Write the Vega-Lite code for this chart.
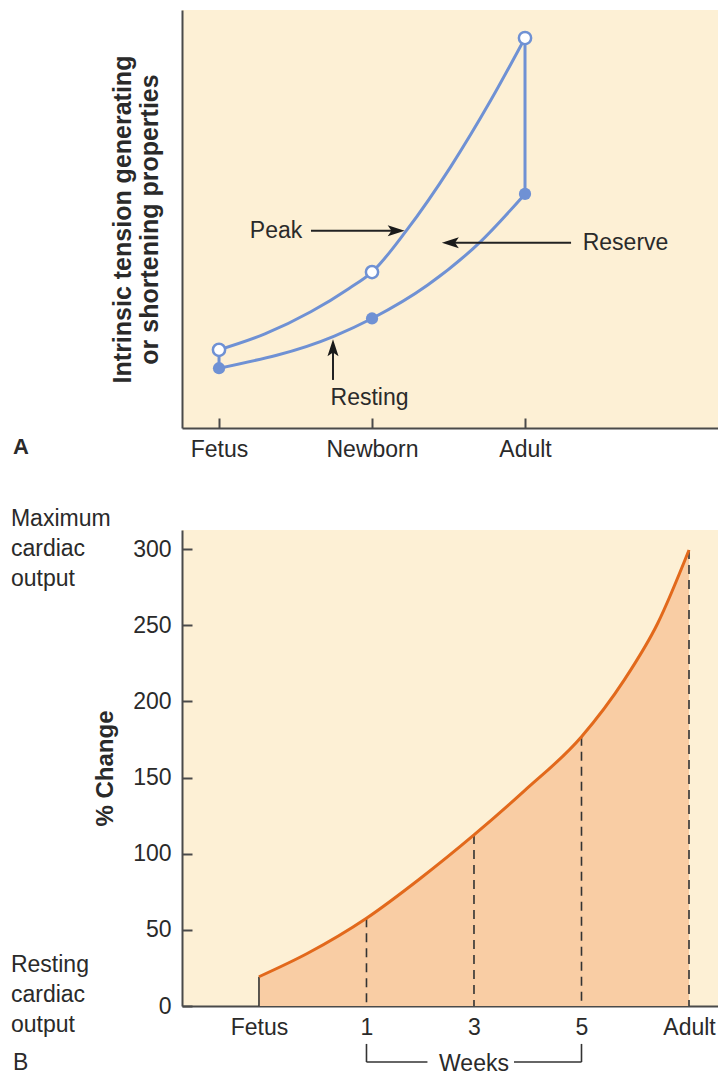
{
  "$schema": "https://vega.github.io/schema/vega-lite/v6.json",
  "background": "white",
  "padding": {"left": 10, "top": 10, "right": 0, "bottom": 0},
  "spacing": 47,
  "config": {
    "view": {"fill": "#fdf0d5", "stroke": null},
    "font": "Liberation Sans",
    "axis": {
      "grid": false,
      "domainColor": "#4a4a4a",
      "domainWidth": 2,
      "tickColor": "#4a4a4a",
      "tickWidth": 2,
      "labelFont": "Liberation Sans",
      "labelFontSize": 23,
      "labelColor": "#2a2a2a",
      "titleFont": "Liberation Sans",
      "titleColor": "#2a2a2a"
    },
    "text": {"font": "Liberation Sans", "fontSize": 23, "fill": "#2a2a2a"}
  },
  "datasets": {
    "curveA": [
      {"series": "Peak", "stage": 0, "value": 18.7},
      {"series": "Peak", "stage": 0.3, "value": 22.5},
      {"series": "Peak", "stage": 0.6, "value": 27.8},
      {"series": "Peak", "stage": 0.85, "value": 33.4},
      {"series": "Peak", "stage": 1, "value": 37.3},
      {"series": "Peak", "stage": 1.222, "value": 47.1},
      {"series": "Peak", "stage": 1.516, "value": 62.6},
      {"series": "Peak", "stage": 1.778, "value": 78.5},
      {"series": "Peak", "stage": 2, "value": 93.3},
      {"series": "Resting", "stage": 0, "value": 14.3},
      {"series": "Resting", "stage": 0.754, "value": 22.0},
      {"series": "Resting", "stage": 1, "value": 26.2},
      {"series": "Resting", "stage": 1.364, "value": 34.2},
      {"series": "Resting", "stage": 1.701, "value": 44.3},
      {"series": "Resting", "stage": 2, "value": 56.0}
    ],
    "stagesA": [
      {"stage": 0, "label": "Fetus", "series": "Resting", "value": 14.3},
      {"stage": 1, "label": "Newborn", "series": "Resting", "value": 26.2},
      {"stage": 2, "label": "Adult", "series": "Resting", "value": 56.0},
      {"stage": 0, "label": "Fetus", "series": "Peak", "value": 18.7},
      {"stage": 1, "label": "Newborn", "series": "Peak", "value": 37.3},
      {"stage": 2, "label": "Adult", "series": "Peak", "value": 93.3}
    ],
    "reserveA": [
      {"stage": 0, "value": 14.3, "value2": 18.7},
      {"stage": 2, "value": 56.0, "value2": 93.3}
    ],
    "arrowsA": [
      {"name": "Peak", "stage": 0.601, "stage2": 1.14, "value": 47.2, "value2": 47.2},
      {"name": "Reserve", "stage": 1.52, "stage2": 2.301, "value": 44.3, "value2": 44.3},
      {"name": "Resting", "stage": 0.745, "stage2": 0.745, "value": 11.5, "value2": 18.5}
    ],
    "headsA": [
      {"dir": "right", "stage": 1.158, "value": 47.2},
      {"dir": "left", "stage": 1.512, "value": 44.3},
      {"dir": "up", "stage": 0.745, "value": 19.2}
    ],
    "labelsA": [
      {"text": "Peak", "stage": 0.373, "value": 47.2},
      {"text": "Reserve", "stage": 2.657, "value": 44.3},
      {"text": "Resting", "stage": 0.984, "value": 7.2}
    ],
    "letterA": [{"text": "A", "stage": -1.294, "value": -4.6}],
    "curveB": [
      {"stage": 0, "pct": 19.2},
      {"stage": 0.453, "pct": 34.6},
      {"stage": 1, "pct": 57.6},
      {"stage": 1.5, "pct": 83.7},
      {"stage": 2, "pct": 112.3},
      {"stage": 2.468, "pct": 141.2},
      {"stage": 3, "pct": 176.8},
      {"stage": 3.398, "pct": 214.1},
      {"stage": 3.709, "pct": 251.3},
      {"stage": 4, "pct": 299.4}
    ],
    "markersB": [
      {"stage": 0, "label": "Fetus", "pct": 19.2},
      {"stage": 1, "label": "1", "pct": 57.6},
      {"stage": 2, "label": "3", "pct": 112.3},
      {"stage": 3, "label": "5", "pct": 176.8},
      {"stage": 4, "label": "Adult", "pct": 299.4}
    ],
    "notesB": [
      {"text": "Maximum\ncardiac\noutput", "stage": -2.307, "pct": 319.7},
      {"text": "Resting\ncardiac\noutput", "stage": -2.307, "pct": 26.9},
      {"text": "B", "stage": -2.288, "pct": -37.5}
    ],
    "weeksB": [{"text": "Weeks", "stage": 2, "pct": -38.1}],
    "bracketB": [
      {"stage": 1, "stage2": 1, "pct": -24.9, "pct2": -36.8},
      {"stage": 3, "stage2": 3, "pct": -24.9, "pct2": -36.8},
      {"stage": 1, "stage2": 1.567, "pct": -36.8, "pct2": -36.8},
      {"stage": 2.372, "stage2": 3, "pct": -36.8, "pct2": -36.8}
    ]
  },
  "vconcat": [
    {
      "width": 537,
      "height": 418,
      "encoding": {
        "x": {
          "field": "stage",
          "type": "quantitative",
          "scale": {"domain": [-0.242, 3.268], "nice": false, "zero": false},
          "axis": {
            "title": null,
            "values": [0, 1, 2],
            "labelExpr": "['Fetus','Newborn','Adult'][datum.value]",
            "tickSize": -10,
            "labelPadding": 20
          }
        },
        "y": {
          "field": "value",
          "type": "quantitative",
          "scale": {"domain": [0, 100], "nice": false, "zero": false},
          "axis": {
            "title": ["Intrinsic tension generating", "or shortening properties"],
            "ticks": false,
            "labels": false,
            "titleFontWeight": "bold",
            "titleFontSize": 25,
            "titleLineHeight": 27,
            "titlePadding": 20
          }
        }
      },
      "layer": [
        {
          "data": {"name": "curveA"},
          "mark": {"type": "line", "interpolate": "monotone", "stroke": "#6f91d4", "strokeWidth": 3},
          "encoding": {"detail": {"field": "series"}}
        },
        {
          "data": {"name": "reserveA"},
          "mark": {"type": "rule", "stroke": "#6f91d4", "strokeWidth": 3},
          "encoding": {"y2": {"field": "value2"}}
        },
        {
          "data": {"name": "stagesA"},
          "transform": [{"filter": "datum.series == 'Resting'"}],
          "mark": {"type": "point", "shape": "circle", "filled": true, "fill": "#6f91d4", "size": 150, "opacity": 1}
        },
        {
          "data": {"name": "stagesA"},
          "transform": [{"filter": "datum.series == 'Peak'"}],
          "mark": {"type": "point", "shape": "circle", "filled": true, "fill": "white", "stroke": "#6f91d4", "strokeWidth": 2.5, "size": 150, "opacity": 1}
        },
        {
          "data": {"name": "arrowsA"},
          "mark": {"type": "rule", "stroke": "#222222", "strokeWidth": 2},
          "encoding": {"x2": {"field": "stage2"}, "y2": {"field": "value2"}}
        },
        {
          "data": {"name": "headsA"},
          "mark": {"type": "point", "filled": true, "fill": "#1a1a1a", "size": 289, "opacity": 1},
          "encoding": {
            "shape": {
              "field": "dir",
              "type": "nominal",
              "scale": {
                "domain": ["right", "left", "up"],
                "range": ["M1,0 L-1,-0.65 L-0.55,0 L-1,0.65 Z", "M-1,0 L1,-0.65 L0.55,0 L1,0.65 Z", "M0,-1 L-0.65,1 L0,0.55 L0.65,1 Z"]
              },
              "legend": null
            }
          }
        },
        {
          "data": {"name": "labelsA"},
          "mark": {"type": "text", "align": "center", "baseline": "middle"},
          "encoding": {"text": {"field": "text"}}
        },
        {
          "data": {"name": "letterA"},
          "mark": {"type": "text", "align": "center", "baseline": "middle", "fontWeight": "bold", "fontSize": 22},
          "encoding": {"text": {"field": "text"}}
        }
      ]
    },
    {
      "width": 537,
      "height": 476,
      "encoding": {
        "x": {
          "field": "stage",
          "type": "quantitative",
          "scale": {"domain": [-0.716, 4.279], "nice": false, "zero": false},
          "axis": {
            "title": null,
            "values": [0, 1, 2, 3, 4],
            "labelExpr": "['Fetus','1','3','5','Adult'][datum.value]",
            "ticks": false,
            "labelPadding": 10
          }
        },
        "y": {
          "field": "pct",
          "type": "quantitative",
          "scale": {"domain": [0, 312.5], "nice": false, "zero": false},
          "axis": {
            "title": "% Change",
            "values": [0, 50, 100, 150, 200, 250, 300],
            "tickSize": -10,
            "labelPadding": 21,
            "titleFontWeight": "bold",
            "titleFontSize": 24,
            "titlePadding": 15
          }
        }
      },
      "layer": [
        {
          "data": {"name": "curveB"},
          "mark": {"type": "area", "interpolate": "monotone", "fill": "#f9cda4", "opacity": 1}
        },
        {
          "data": {"name": "markersB"},
          "transform": [{"filter": "datum.stage > 0"}],
          "mark": {"type": "rule", "stroke": "#333333", "strokeWidth": 1.6, "strokeDash": [9, 6]},
          "encoding": {"y2": {"datum": 0}}
        },
        {
          "data": {"name": "markersB"},
          "transform": [{"filter": "datum.stage == 0"}],
          "mark": {"type": "rule", "stroke": "#333333", "strokeWidth": 1.6},
          "encoding": {"y2": {"datum": 0}}
        },
        {
          "data": {"name": "curveB"},
          "mark": {"type": "line", "interpolate": "monotone", "stroke": "#e2691c", "strokeWidth": 3}
        },
        {
          "data": {"name": "notesB"},
          "mark": {"type": "text", "align": "left", "baseline": "middle", "lineBreak": "\n", "lineHeight": 30},
          "encoding": {"text": {"field": "text"}}
        },
        {
          "data": {"name": "weeksB"},
          "mark": {"type": "text", "align": "center", "baseline": "middle"},
          "encoding": {"text": {"field": "text"}}
        },
        {
          "data": {"name": "bracketB"},
          "mark": {"type": "rule", "stroke": "#333333", "strokeWidth": 1.6},
          "encoding": {"x2": {"field": "stage2"}, "y2": {"field": "pct2"}}
        }
      ]
    }
  ]
}
